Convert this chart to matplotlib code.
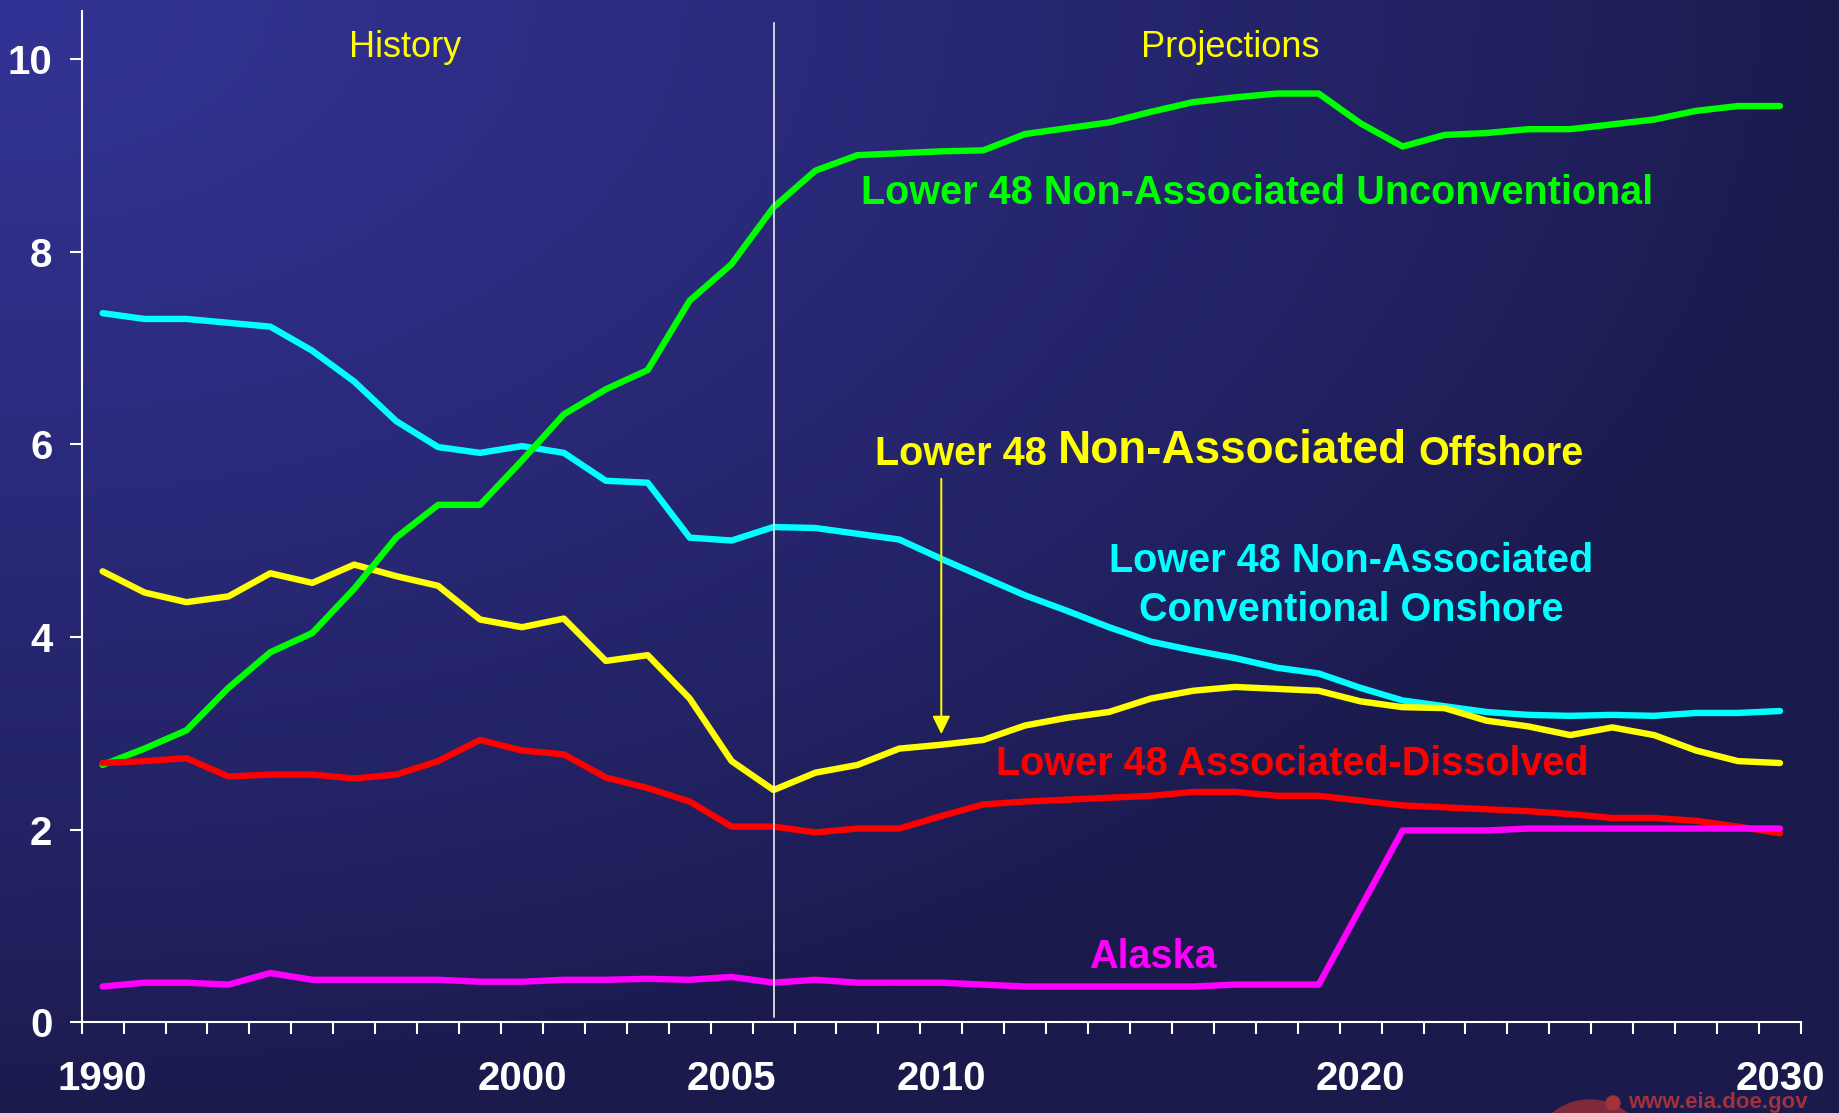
import matplotlib
matplotlib.use("Agg")
import matplotlib.pyplot as plt
import numpy as np
from matplotlib.patches import Ellipse, Circle

plt.rcParams['font.family'] = ['Liberation Sans', 'DejaVu Sans']

years = list(range(1990, 2031))
year_labels = [1990, 2000, 2005, 2010, 2020, 2030]

# tcf
unconventional = [2.67, 2.84, 3.03, 3.47, 3.84, 4.04, 4.50, 5.03, 5.37, 5.37,
                  5.83, 6.31, 6.57, 6.77, 7.49, 7.87, 8.46, 8.84, 9.00, 9.02,
                  9.04, 9.05, 9.22, 9.28, 9.34, 9.45, 9.55, 9.60, 9.64, 9.64,
                  9.33, 9.09, 9.21, 9.23, 9.27, 9.27, 9.32, 9.37, 9.46, 9.51, 9.51]
onshore = [7.36, 7.30, 7.30, 7.26, 7.22, 6.97, 6.65, 6.24, 5.97, 5.91,
           5.98, 5.91, 5.62, 5.60, 5.03, 5.00, 5.14, 5.13, 5.07, 5.01,
           4.81, 4.62, 4.43, 4.27, 4.10, 3.95, 3.86, 3.78, 3.68, 3.62,
           3.47, 3.34, 3.28, 3.22, 3.19, 3.18, 3.19, 3.18, 3.21, 3.21, 3.23]
offshore = [4.68, 4.46, 4.36, 4.42, 4.66, 4.56, 4.75, 4.63, 4.53, 4.18,
            4.10, 4.19, 3.75, 3.81, 3.36, 2.71, 2.41, 2.59, 2.67, 2.84,
            2.88, 2.93, 3.08, 3.16, 3.22, 3.36, 3.44, 3.48, 3.46, 3.44,
            3.33, 3.27, 3.26, 3.13, 3.07, 2.98, 3.06, 2.98, 2.82, 2.71, 2.69]
assoc_dissolved = [2.69, 2.71, 2.74, 2.55, 2.57, 2.57, 2.53, 2.57, 2.71, 2.93,
                   2.82, 2.78, 2.54, 2.43, 2.29, 2.03, 2.03, 1.97, 2.01, 2.01,
                   2.14, 2.26, 2.29, 2.31, 2.33, 2.35, 2.39, 2.39, 2.35, 2.35,
                   2.30, 2.25, 2.23, 2.21, 2.19, 2.16, 2.12, 2.12, 2.09, 2.03, 1.96]
alaska = [0.37, 0.41, 0.41, 0.39, 0.51, 0.44, 0.44, 0.44, 0.44, 0.42,
          0.42, 0.44, 0.44, 0.45, 0.44, 0.47, 0.41, 0.44, 0.41, 0.41,
          0.41, 0.39, 0.37, 0.37, 0.37, 0.37, 0.37, 0.39, 0.39, 0.39,
          1.19, 1.99, 1.99, 1.99, 2.01, 2.01, 2.01, 2.01, 2.01, 2.01, 2.01]

W, H = 1839, 1113
fig = plt.figure(figsize=(W / 100, H / 100), dpi=100)

# background gradient, light in the top-left corner
bg = fig.add_axes([0, 0, 1, 1])
gx, gy = np.meshgrid(np.linspace(0, 1, 400), np.linspace(0, 1, 250))
f = np.clip(1 - np.sqrt(gx ** 2 + gy ** 2), 0, 1) ** 0.8
light = np.array([51, 51, 150]) / 255
dark = np.array([27, 26, 76]) / 255
img = dark + f[..., None] * (light - dark)
bg.imshow(img, extent=(0, W, H, 0), aspect='auto', interpolation='bilinear')
bg.set_xlim(0, W)
bg.set_ylim(H, 0)
bg.axis('off')
# eia logo in the corner
bg.add_patch(Ellipse((1590, 1150), 110, 100, color='#7E2A3A'))
bg.add_patch(Circle((1613, 1103), 7, color='#A3303A'))
bg.text(1628, 1113, 'www.eia.doe.gov', color='#A3303A', fontsize=16,
        fontweight='bold', va='bottom', ha='left')

ax = fig.add_axes([0.0444, 0.0816, 0.9349, 0.9088])
ax.set_facecolor('none')
x = np.arange(len(years))

line_kw = dict(lw=4.6, solid_capstyle='round', solid_joinstyle='round')
ax.plot(x, onshore, color='#00FFFF', **line_kw)
ax.plot(x, offshore, color='#FFFF00', **line_kw)
ax.plot(x, unconventional, color='#00FF00', **line_kw)
ax.plot(x, assoc_dissolved, color='#FF0000', **line_kw)
ax.plot(x, alaska, color='#FF00FF', **line_kw)

# history / projections divider at 2006
split = years.index(2006)
ax.plot([split, split], [0.05, 10.37], color='white', lw=1.1)

ax.set_xlim(-0.5, len(years) - 0.5)
ax.set_ylim(0, 10.5)
for s in ['top', 'right']:
    ax.spines[s].set_visible(False)
for s in ['left', 'bottom']:
    ax.spines[s].set_color('white')
    ax.spines[s].set_linewidth(1.5)

ax.set_yticks([0, 2, 4, 6, 8, 10])
ax.tick_params(axis='y', colors='white', length=9, width=1.5, pad=12,
               labelsize=29)
ax.set_xticks([years.index(y) for y in year_labels])
ax.set_xticklabels([str(y) for y in year_labels])
ax.set_xticks(np.arange(-0.5, len(years)), minor=True)
ax.tick_params(axis='x', which='major', length=0, pad=27, colors='white', labelsize=29)
ax.tick_params(axis='x', which='minor', length=8.5, width=1.5, color='white')
for lab in ax.get_xticklabels() + ax.get_yticklabels():
    lab.set_fontweight('bold')

ax.text(7.21, 10.12, 'History', color='#FFFF00', fontsize=26, ha='center', va='center')
ax.text(26.89, 10.12, 'Projections', color='#FFFF00', fontsize=26, ha='center', va='center')

lab = dict(fontsize=28.5, fontweight='bold', va='center')
ax.text(18.08, 8.61, 'Lower 48 Non-Associated Unconventional', color='#00FF00', ha='left', **lab)
ax.text(29.77, 4.79, 'Lower 48 Non-Associated', color='#00FFFF', ha='center', **lab)
ax.text(29.77, 4.28, 'Conventional Onshore', color='#00FFFF', ha='center', **lab)
ax.text(21.30, 2.675, 'Lower 48 Associated-Dissolved', color='#FF0000', ha='left', **lab)
ax.text(23.53, 0.673, 'Alaska', color='#FF00FF', ha='left', **lab)

t1 = ax.text(18.42, 5.90, 'Lower 48', color='#FFFF00', fontsize=28.5,
             fontweight='bold', ha='left', va='center')
t2 = ax.annotate('Non-Associated', xy=(1, 0), xycoords=t1, xytext=(8, 0),
                 textcoords='offset points', color='#FFFF00', fontsize=33,
                 fontweight='bold', ha='left', va='bottom')
ax.annotate('Offshore', xy=(1, 0), xycoords=t2, xytext=(8, 0),
            textcoords='offset points', color='#FFFF00', fontsize=28.5,
            fontweight='bold', ha='left', va='bottom')

ax.annotate('', xy=(years.index(2010), 2.99), xytext=(years.index(2010), 5.64),
            arrowprops=dict(arrowstyle='-|>,head_length=0.55,head_width=0.27',
                            color='#FFFF00', lw=1.4, mutation_scale=20,
                            shrinkA=0, shrinkB=0))

fig.savefig('out.png', dpi=100)
